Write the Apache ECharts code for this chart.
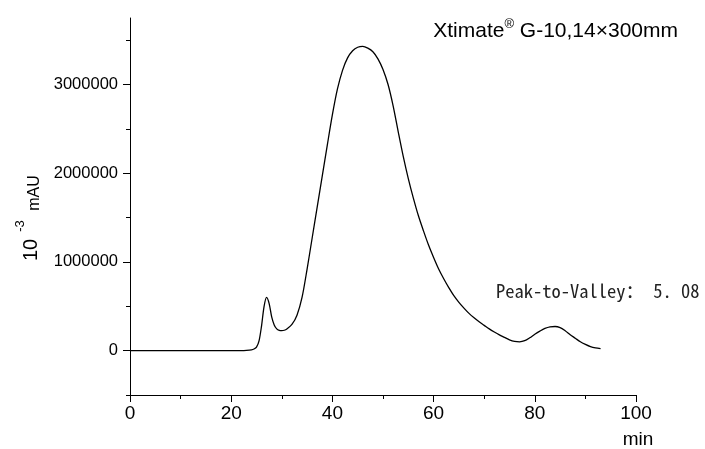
<!DOCTYPE html>
<html><head><meta charset="utf-8">
<script src="https://cdn.jsdelivr.net/npm/echarts@6/dist/echarts.min.js"></script>
<style>html,body{margin:0;padding:0;background:#fff}#c{width:705px;height:449px}</style>
</head><body><div id="c"></div>
<script>
// retention time (min)
const timeMin = [0,5,10,15,20,22,23,24,24.5,25,25.5,26,26.5,27,27.5,28,28.5,29,29.5,30,30.5,31,32,33,34,35,36,37,38,39,40,41,42,43,44,45,46,47,48,49,50,51,52,53,54,55,56,57,58,59,60,61,62,63,64,65,66,67,68,69,70,71,72,73,74,75,76,77,78,79,80,81,82,83,84,85,86,87,88,89,90,91,92,93];
// signal (10^-3 mAU)
const signal = [0,0,0,0,0,0,2000,8000,18000,40000,110000,280000,500000,600000,530000,380000,290000,245000,228000,225000,230000,245000,295000,400000,600000,920000,1270000,1620000,1970000,2320000,2660000,2950000,3160000,3300000,3380000,3420000,3430000,3410000,3370000,3290000,3170000,3000000,2760000,2470000,2190000,1940000,1720000,1520000,1350000,1190000,1050000,920000,810000,710000,620000,545000,480000,420000,370000,325000,285000,245000,210000,178000,150000,122000,105000,100000,112000,145000,185000,220000,250000,268000,272000,260000,225000,180000,140000,100000,70000,45000,30000,22000];
const xTickLabels = [0,20,40,60,80,100];
const yMajorTicks = [0,1000000,2000000,3000000];
const yMinorTicks = [-500000,500000,1500000,2500000,3500000];
const titleText = 'Xtimate';
const titleRest = ' G-10,14×300mm';
const noteText = 'Peak-to-Valley： 5. 08';

const chart = echarts.init(document.getElementById('c'), null, {renderer:'canvas'});
const FF = '"Liberation Sans", Arial, sans-serif';
const MONO = '"Noto Sans Mono CJK SC","DejaVu Sans Mono",monospace';
const yCommon = {type:'value', min:-500000, max:3750000, position:'left', splitLine:{show:false}};
chart.setOption({
  animation:false,
  backgroundColor:'#fff',
  grid:{left:130, right:69, top:18, bottom:54, containLabel:false},
  xAxis:{type:'value', min:0, max:100, interval:20,
    axisLine:{onZero:false, lineStyle:{color:'#000', width:1}},
    axisTick:{show:true, length:7, lineStyle:{color:'#000'}},
    minorTick:{show:true, splitNumber:2, length:4, lineStyle:{color:'#000'}},
    axisLabel:{color:'#000', fontSize:19, fontFamily:FF, margin:9, customValues:xTickLabels},
    splitLine:{show:false}},
  yAxis:[
    Object.assign({}, yCommon, {
      axisLine:{show:true, onZero:false, lineStyle:{color:'#000', width:1}},
      axisTick:{show:true, length:7, customValues:yMajorTicks, lineStyle:{color:'#000'}},
      axisLabel:{color:'#000', fontSize:16.5, fontFamily:FF, margin:12, customValues:yMajorTicks,
        formatter:v=>String(v)}
    }),
    Object.assign({}, yCommon, {
      axisLine:{show:false, onZero:false},
      axisTick:{show:true, length:4, customValues:yMinorTicks, lineStyle:{color:'#000'}},
      axisLabel:{show:false}
    })
  ],
  series:[{type:'line', yAxisIndex:0, data:timeMin.map((t,i)=>[t, signal[i]]), showSymbol:false,
    smooth:0.3, lineStyle:{color:'#000', width:1.3}}],
  graphic:[
    {type:'text', x:678, y:42, style:{text:'{a|'+titleText+'}{s|®}{a|'+titleRest+'}', textAlign:'right', textVerticalAlign:'bottom',
      rich:{a:{fontSize:21, fontFamily:FF, fill:'#000', lineHeight:24, verticalAlign:'bottom'}, s:{fontSize:13, fontFamily:FF, fill:'#000', verticalAlign:'top', lineHeight:24}}}},
    {type:'text', x:31, y:250, rotation:Math.PI/2, style:{text:'10', fontSize:20, fontFamily:FF, fill:'#000', textAlign:'center', textVerticalAlign:'middle'}},
    {type:'text', x:20, y:226, rotation:Math.PI/2, style:{text:'-3', fontSize:13, fontFamily:FF, fill:'#000', textAlign:'center', textVerticalAlign:'middle'}},
    {type:'text', x:35, y:193, rotation:Math.PI/2, style:{text:'mAU', fontSize:16, fontFamily:FF, fill:'#000', textAlign:'center', textVerticalAlign:'middle'}},
    {type:'text', x:638, y:440, style:{text:'min', fontSize:19, fontFamily:FF, fill:'#000', textAlign:'center', textVerticalAlign:'middle'}},
    {type:'text', x:496, y:291, style:{text:noteText, fontSize:18.5, fontFamily:MONO, fill:'#222', textAlign:'left', textVerticalAlign:'middle'}}
  ]
});
</script></body></html>
